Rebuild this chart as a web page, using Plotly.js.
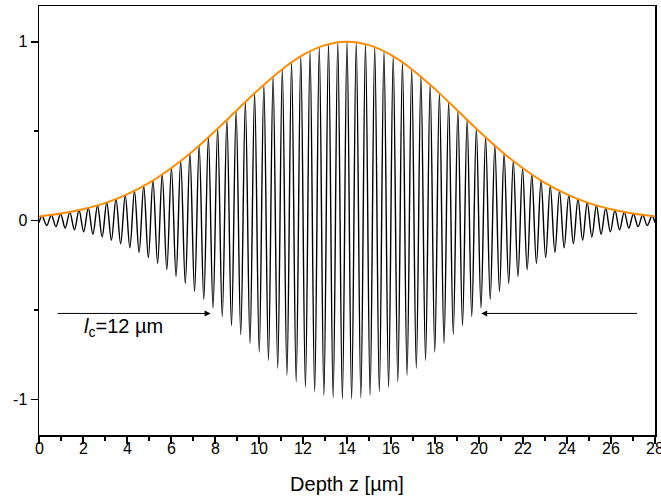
<!DOCTYPE html>
<html>
<head>
<meta charset="utf-8">
<script src="https://cdn.plot.ly/plotly-3.0.1.min.js"></script>
<style>html,body{margin:0;padding:0;background:#fff;}#chart{width:661px;height:499px;}</style>
</head>
<body>
<div id="chart"></div>
<script>
// Fringe extrema (depth in µm)
const fringeZ = [0.00,
 0.14,0.35,0.56,0.77,0.98,1.19,1.40,1.61,1.82,2.03,2.24,2.45,2.66,2.87,3.08,3.29,3.50,3.71,3.92,4.13,
 4.34,4.55,4.76,4.97,5.18,5.39,5.60,5.81,6.02,6.23,6.44,6.65,6.86,7.07,7.28,7.49,7.70,7.91,8.12,8.33,
 8.54,8.75,8.96,9.17,9.38,9.59,9.80,10.01,10.22,10.43,10.64,10.85,11.06,11.27,11.48,11.69,11.90,12.11,
 12.32,12.53,12.74,12.95,13.16,13.37,13.58,13.79,14.00,14.21,14.42,14.63,14.84,15.05,15.26,15.47,15.68,
 15.89,16.10,16.31,16.52,16.73,16.94,17.15,17.36,17.57,17.78,17.99,18.20,18.41,18.62,18.83,19.04,19.25,
 19.46,19.67,19.88,20.09,20.30,20.51,20.72,20.93,21.14,21.35,21.56,21.77,21.98,22.19,22.40,22.61,22.82,
 23.03,23.24,23.45,23.66,23.87,24.08,24.29,24.50,24.71,24.92,25.13,25.34,25.55,25.76,25.97,26.18,26.39,
 26.60,26.81,27.02,27.23,27.44,27.65,27.86,
 28.00];
const fringeSignal = [-0.012,
 0.025,-0.028,0.031,-0.034,0.038,-0.042,0.047,-0.052,0.057,-0.063,0.070,-0.077,0.084,-0.092,0.101,-0.110,
 0.120,-0.130,0.141,-0.153,0.166,-0.179,0.193,-0.208,0.224,-0.240,0.257,-0.275,0.293,-0.313,0.333,-0.353,
 0.375,-0.397,0.419,-0.442,0.466,-0.490,0.514,-0.538,0.563,-0.588,0.613,-0.638,0.663,-0.688,0.712,-0.736,
 0.760,-0.782,0.805,-0.826,0.847,-0.866,0.885,-0.902,0.919,-0.934,0.947,-0.959,0.970,-0.979,0.987,-0.992,
 0.997,-0.999,1.000,
 -0.999,0.997,-0.992,0.987,-0.979,0.970,-0.959,0.947,-0.934,0.919,-0.902,0.885,-0.866,0.847,-0.826,0.805,
 -0.782,0.760,-0.736,0.712,-0.688,0.663,-0.638,0.613,-0.588,0.563,-0.538,0.514,-0.490,0.466,-0.442,0.419,
 -0.397,0.375,-0.353,0.333,-0.313,0.293,-0.275,0.257,-0.240,0.224,-0.208,0.193,-0.179,0.166,-0.153,0.141,
 -0.130,0.120,-0.110,0.101,-0.092,0.084,-0.077,0.070,-0.063,0.057,-0.052,0.047,-0.042,0.038,-0.034,0.031,
 -0.028,0.025,
 -0.012];

// Coherence envelope read at integer depths
const envelopeZ = [0,1,2,3,4,5,6,7,8,9,10,11,12,13,14,15,16,17,18,19,20,21,22,23,24,25,26,27,28];
const envelopeVal = [0.023,0.039,0.063,0.097,0.146,0.210,0.292,0.389,0.500,0.618,0.735,0.841,0.926,0.981,1.000,
 0.981,0.926,0.841,0.735,0.618,0.500,0.389,0.292,0.210,0.146,0.097,0.063,0.039,0.023];

const xTicks = [0,2,4,6,8,10,12,14,16,18,20,22,24,26,28];
const xTickText = ['0','2','4','6','8','10','12','14','16','18','20','22','24','26','28'];
const yTicks = [-1,0,1];
const yTickText = ['-1','0','1'];

// Coherence length markers (data units)
const leftArrowZ = [0.78, 7.8];
const rightArrowZ = [27.25, 20.1];
const arrowLevel = -0.52;
const lcLabel = {z: 3.85, y: -0.6, text: '<i>l</i><sub>c</sub>=12 µm'};

const font = 'Liberation Sans, Arial, sans-serif';

const traces = [
  {x: fringeZ, y: fringeSignal, type: 'scatter', mode: 'lines',
   line: {color: '#000000', width: 1.4, shape: 'spline', smoothing: 1}, hoverinfo: 'skip'},
  {x: envelopeZ, y: envelopeVal, type: 'scatter', mode: 'lines',
   line: {color: '#ff8c00', width: 2, shape: 'spline', smoothing: 1}, hoverinfo: 'skip'}
];

// x tick labels drawn as annotations so they sit close under the ticks, as in the reference
const tickAnnotations = xTicks.map((v, i) => ({
  x: v, y: 0, xref: 'x', yref: 'paper', text: xTickText[i], showarrow: false,
  xanchor: 'center', yanchor: 'middle', yshift: -13,
  font: {family: font, size: 16, color: '#000'}
}));

const layout = {
  width: 661, height: 499,
  margin: {l: 39, r: 6, t: 6, b: 64},
  paper_bgcolor: '#ffffff', plot_bgcolor: '#ffffff',
  showlegend: false,
  font: {family: font, color: '#000', size: 16},
  xaxis: {
    range: [0, 28], tickvals: xTicks, showticklabels: false,
    ticks: 'outside', ticklen: 7, tickwidth: 1.5, tickcolor: '#000',
    minor: {dtick: 1, tick0: 0, ticks: 'outside', ticklen: 4, tickwidth: 1.5, tickcolor: '#000', showgrid: false},
    showline: true, linecolor: '#000', linewidth: 1.5, mirror: true,
    showgrid: false, zeroline: false,
    title: {text: 'Depth z [µm]', font: {family: font, size: 20, color: '#000'}, standoff: 34}
  },
  yaxis: {
    range: [-1.2, 1.2], tickvals: yTicks, ticktext: yTickText,
    ticks: 'outside', ticklen: 7, tickwidth: 1.5, tickcolor: '#000',
    minor: {dtick: 0.5, tick0: 0, ticks: 'outside', ticklen: 4, tickwidth: 1.5, tickcolor: '#000', showgrid: false},
    showline: true, linecolor: '#000', linewidth: 1.5, mirror: true,
    showgrid: false, zeroline: false,
    tickfont: {family: font, size: 16, color: '#000'}
  },
  annotations: [
    {x: leftArrowZ[1], y: arrowLevel, ax: leftArrowZ[0], ay: arrowLevel, xref: 'x', yref: 'y', axref: 'x', ayref: 'y',
     text: '', showarrow: true, arrowhead: 2, arrowsize: 1.2, arrowwidth: 1, arrowcolor: '#000'},
    {x: rightArrowZ[1], y: arrowLevel, ax: rightArrowZ[0], ay: arrowLevel, xref: 'x', yref: 'y', axref: 'x', ayref: 'y',
     text: '', showarrow: true, arrowhead: 2, arrowsize: 1.2, arrowwidth: 1, arrowcolor: '#000'},
    {x: lcLabel.z, y: lcLabel.y, xref: 'x', yref: 'y', text: lcLabel.text, showarrow: false,
     font: {family: font, size: 20, color: '#000'}}
  ].concat(tickAnnotations)
};

Plotly.newPlot('chart', traces, layout, {displayModeBar: false, staticPlot: true});
</script>
</body>
</html>
